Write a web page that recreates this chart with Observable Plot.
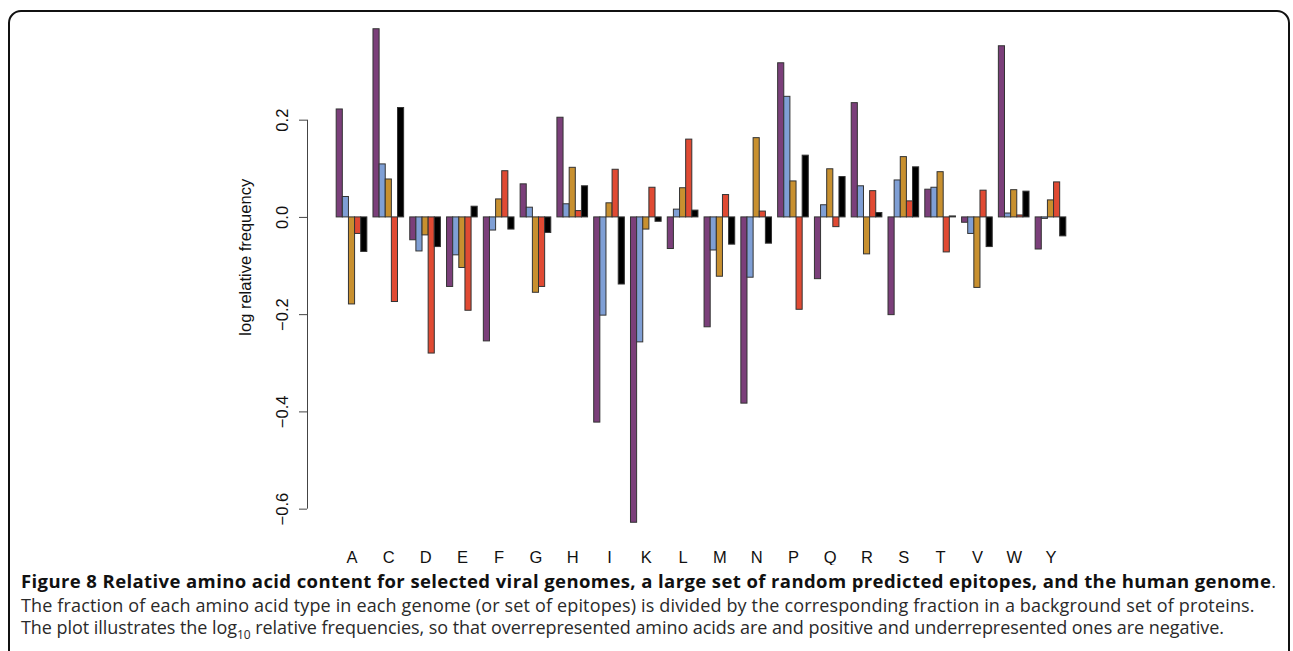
<!DOCTYPE html>
<html>
<head>
<meta charset="utf-8">
<script src="https://cdn.jsdelivr.net/npm/d3@7"></script>
<script src="https://cdn.jsdelivr.net/npm/@observablehq/plot@0.6"></script>
<style>
  html, body { margin: 0; padding: 0; background: #fff; }
  #page { position: relative; width: 1293px; height: 651px; overflow: hidden; }
  #border { position: absolute; left: 8px; top: 10px; width: 1282px; height: 700px;
            border: 2px solid #111; border-radius: 13px; box-sizing: border-box; }
  #chart { position: absolute; left: 0; top: 0; }
  .cap { position: absolute; left: 21px; font-family: "Open Sans", sans-serif; font-size: 18px;
         line-height: 24px; color: #2a2a2a; white-space: nowrap; }
  .cap b { color: #111; font-weight: 700; font-size: 18.5px; letter-spacing: 0.4px; }
</style>
</head>
<body>
<div id="page">
  <div id="border"></div>
  <div id="chart"></div>
  <div class="cap" id="l1" style="top:569px"><b>Figure 8 Relative amino acid content for selected viral genomes, a large set of random predicted epitopes, and the human genome</b>.</div>
  <div class="cap" id="l2" style="top:593px; letter-spacing:0.15px">The fraction of each amino acid type in each genome (or set of epitopes) is divided by the corresponding fraction in a background set of proteins.</div>
  <div class="cap" id="l3" style="top:615px; letter-spacing:-0.05px">The plot illustrates the log<sub style="font-size:12px; line-height:0">10</sub> relative frequencies, so that overrepresented amino acids are and positive and underrepresented ones are negative.</div>
</div>
<script>
// ---- data ----
const aminoAcids = ["A","C","D","E","F","G","H","I","K","L","M","N","P","Q","R","S","T","V","W","Y"];
const seriesNames = ["Viral genome 1", "Viral genome 2", "Viral genome 3", "Random predicted epitopes", "Human genome"];
const seriesColors = ["#7b3f7a", "#7f9fd5", "#c8902f", "#e04a33", "#000000"];
const series1 = [0.222, 0.387, -0.047, -0.143, -0.255, 0.068, 0.205, -0.422, -0.628, -0.065, -0.226, -0.383, 0.317, -0.127, 0.235, -0.201, 0.057, -0.011, 0.352, -0.066];
const series2 = [0.042, 0.109, -0.070, -0.078, -0.027, 0.020, 0.027, -0.202, -0.257, 0.016, -0.068, -0.124, 0.248, 0.025, 0.064, 0.076, 0.061, -0.034, 0.008, -0.003];
const series3 = [-0.179, 0.078, -0.037, -0.104, 0.037, -0.155, 0.102, 0.029, -0.025, 0.060, -0.122, 0.163, 0.074, 0.099, -0.076, 0.124, 0.093, -0.145, 0.056, 0.035];
const series4 = [-0.034, -0.174, -0.280, -0.192, 0.095, -0.143, 0.013, 0.098, 0.061, 0.160, 0.046, 0.012, -0.190, -0.020, 0.054, 0.033, -0.072, 0.055, 0.004, 0.072];
const series5 = [-0.071, 0.225, -0.061, 0.022, -0.025, -0.032, 0.064, -0.138, -0.009, 0.014, -0.056, -0.054, 0.127, 0.083, 0.009, 0.103, 0.002, -0.061, 0.053, -0.039];
const yTicks = [-0.6, -0.4, -0.2, 0.0, 0.2];
const yLabel = "log relative frequency";
const yLabelAt = -0.082;

// ---- build table (R barplot, beside=TRUE, space=c(0,1)) ----
const allSeries = [series1, series2, series3, series4, series5];
const nS = allSeries.length;
const groupWidth = nS + 1;
const rows = aminoAcids.flatMap((aa, g) => allSeries.map((vals, s) => ({
  aa, g, s, name: seriesNames[s], value: vals[g]
})));
const xMin = 1, xMax = aminoAcids.length * groupWidth;
const xExt = 0.04 * (xMax - xMin);
const allVals = rows.map(d => d.value).concat([0]);
const yMin = d3.min(allVals), yMax = d3.max(allVals);
const yExt = 0.04 * (yMax - yMin);
const xDomain = [xMin - xExt, xMax + xExt];
const yDomain = [yMin - yExt, yMax + yExt];
const groupCenters = aminoAcids.map((aa, g) => g * groupWidth + 1 + nS / 2);

const chart = Plot.plot({
  width: 1293,
  height: 565,
  marginLeft: 307,
  marginRight: 198,
  marginTop: 9,
  marginBottom: 23,
  style: { fontFamily: "'Liberation Sans', Arial, sans-serif", fontSize: "16.5px", color: "#111", background: "transparent" },
  x: { domain: xDomain },
  y: { domain: yDomain },
  color: { domain: seriesNames, range: seriesColors },
  marks: [
    Plot.rect(rows, {
      x1: d => d.g * groupWidth + 1 + d.s,
      x2: d => d.g * groupWidth + 2 + d.s,
      y1: 0,
      y2: "value",
      fill: "name",
      stroke: "#333",
      strokeWidth: 1
    }),
    Plot.ruleX([xDomain[0]], { y1: yTicks[0], y2: yTicks[yTicks.length - 1], stroke: "#444", strokeWidth: 1 }),
    Plot.axisY({
      ticks: yTicks,
      tickFormat: d3.format(".1f"),
      tickSize: 8,
      tickPadding: 12,
      tickRotate: -90,
      stroke: "#444",
      fontSize: 16.5,
      label: null
    }),
    Plot.text([yLabel], {
      x: xDomain[0],
      y: yLabelAt,
      text: d => d,
      rotate: -90,
      dx: -62,
      textAnchor: "middle",
      lineAnchor: "middle",
      fontSize: 16.5,
      fill: "#111"
    }),
    Plot.axisX({
      ticks: groupCenters,
      tickFormat: v => aminoAcids[groupCenters.indexOf(v)],
      tickSize: 0,
      tickPadding: 9,
      fontSize: 16.5,
      label: null
    })
  ]
});
document.getElementById("chart").appendChild(chart);
</script>
</body>
</html>
